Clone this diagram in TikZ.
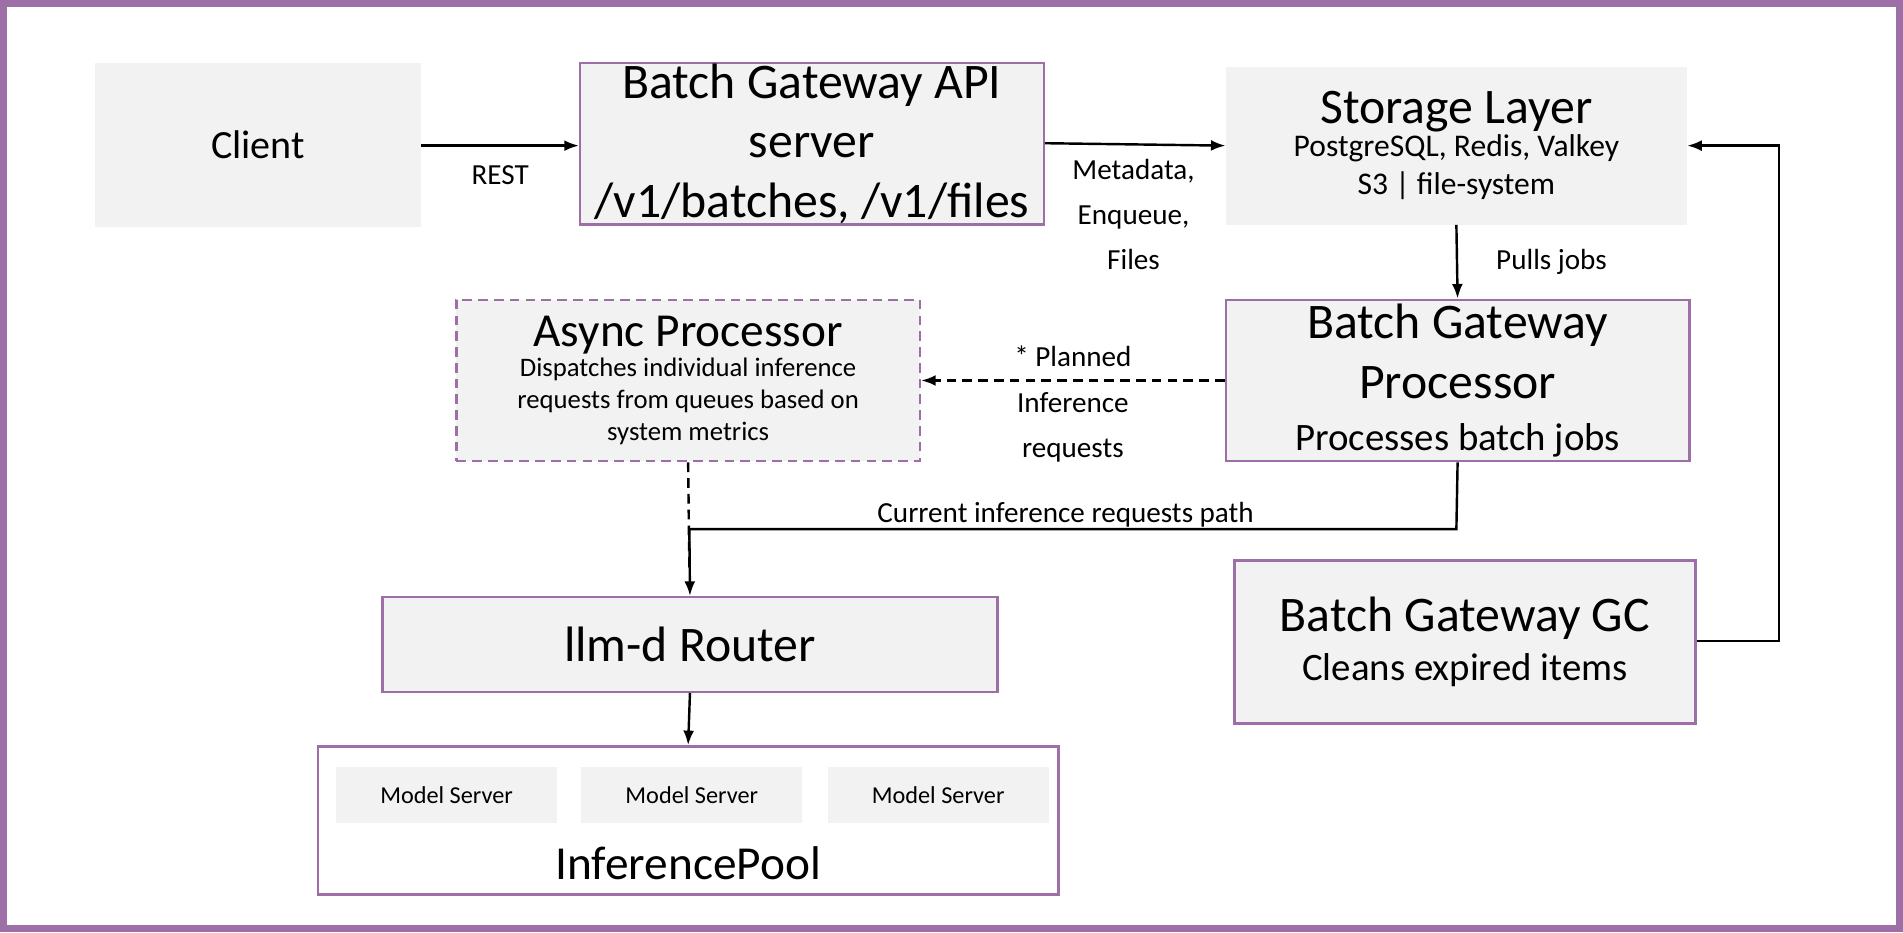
\documentclass[tikz,border=0pt]{standalone}
\usepackage{fontspec}
\setmainfont{Carlito}
\usetikzlibrary{positioning,arrows.meta}
\definecolor{frame}{HTML}{9E6FA6}
\definecolor{boxgray}{HTML}{F2F2F2}
\newcommand{\fs}[1]{\fontsize{#1pt}{1.2\dimexpr#1pt\relax}\selectfont}
\newcommand{\fsl}[1]{\fontsize{#1pt}{1.55\dimexpr#1pt\relax}\selectfont}
\tikzset{
    box/.style={fill=boxgray, draw=frame, line width=2pt, align=center, inner sep=0pt},
    plain/.style={fill=boxgray, align=center, inner sep=0pt},
    lbl/.style={align=center, font=\fsl{24}},
    dsh/.style={dash pattern=on 8pt off 5pt},
    arr/.style={-{Latex[length=12pt,width=9pt]}, line width=2pt}
}
\begin{document}
\begin{tikzpicture}[x=1pt,y=-1pt]
    \useasboundingbox (0,0) rectangle (1568,768);
    % outer frame
    \draw[frame, line width=6pt] (3,3) rectangle (1565,765);

    % top row
    \node[plain, minimum width=269pt, minimum height=135pt, font=\fs{33}] (client) at (212.5,119.5) {Client};
    \node[box, minimum width=382pt, minimum height=133pt, font=\fs{41}] (api) at (669,118.5)
        {Batch Gateway API\\server\\/v1/batches, /v1/files};
    \node[plain, minimum width=380pt, minimum height=130pt, font=\fs{26}] (store) at (1200,120)
        {{\fs{41}Storage Layer}\\[-4pt]PostgreSQL, Redis, Valkey\\S3 | file-system};

    % middle row
    \node[box, minimum width=382pt, minimum height=133pt, font=\fs{41}] (proc) at (1201,313.5)
        {Batch Gateway\\Processor\\[-6pt]{\fs{32}Processes batch jobs}};
    \node[box, draw=frame, dsh, minimum width=382pt, minimum height=133pt, font=\fs{22}] (async) at (567,313.5)
        {{\fs{39}Async Processor}\\[-2pt]Dispatches individual inference\\requests from queues based on\\system metrics};
    \node[box, minimum width=380pt, minimum height=134pt, font=\fs{32}] (gc) at (1207,529)
        {{\fs{41}Batch Gateway GC}\\[2pt]Cleans expired items};

    % router and pool
    \node[box, minimum width=507pt, minimum height=78pt, font=\fs{41}] (router) at (568.5,531) {llm-d Router};
    \node[box, fill=white, minimum width=610pt, minimum height=122pt] (pool) at (567,676) {};
    \foreach \i/\x in {1/368,2/570,3/773}
        \node[plain, minimum width=182pt, minimum height=46pt, font=\fs{20}] (ms\i) at (\x,655) {Model Server};
    \node[font=\fs{39}] (poollbl) at (567,711) {InferencePool};

    % connectors
    \draw[arr] (client.east |- 0,120) -- (api.west |- 0,120) node[lbl, midway, below=12pt] {REST};
    \draw[arr] (api.east |- 0,118) -- (store.west |- 0,120);
    \node[lbl] (meta) at (934,177) {Metadata,\\Enqueue,\\Files};
    \draw[arr] (store.south) -- (proc.north) node[lbl, midway, right=28pt] {Pulls jobs};
    \draw[arr, dsh] (proc.west) -- (async.east);
    \node[lbl] (plan) at (884,333) {* Planned\\Inference\\requests};
    \coordinate (bend) at (1200,436);
    \draw[arr] (proc.south) -- (bend) -- (568,436) -- (router.north);
    \node[lbl] (cur) at (878,424) {Current inference requests path};
    \draw[line width=2pt, dsh] (async.south) -- (568,470);
    \draw[arr] (router.south) -- (pool.north);
    \coordinate (gcr) at (1466,528);
    \draw[arr] (gc.east |- gcr) -- (gcr) -- (1466,120) -- (store.east |- 0,120);
\end{tikzpicture}
\end{document}
